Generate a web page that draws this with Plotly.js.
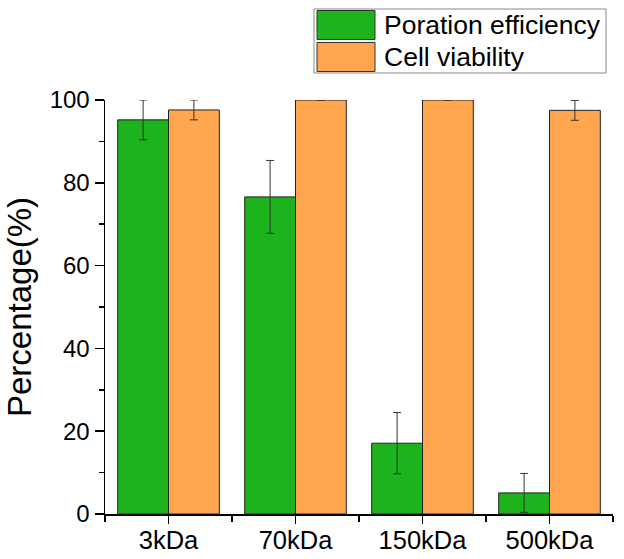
<!DOCTYPE html>
<html>
<head>
<meta charset="utf-8">
<script src="https://cdn.plot.ly/plotly-3.0.1.min.js"></script>
<style>
  html, body { margin: 0; padding: 0; background: #fff; }
  #chart { width: 624px; height: 559px; }
</style>
</head>
<body>
<div id="chart"></div>
<script>
const categories = ['3kDa', '70kDa', '150kDa', '500kDa'];
const porationValues = [95.2, 76.6, 17.1, 5.1];
const porationErrors = [4.8, 8.8, 7.4, 4.7];
const viabilityValues = [97.6, 100, 100, 97.5];
const viabilityErrors = [2.4, null, null, 2.4];
const seriesNames = ['Poration efficiency', 'Cell viability'];
const seriesColors = ['#1cb31c', '#ffa64f'];

const FONT = '"Liberation Sans", Arial, sans-serif';
const W = 624, H = 559;
const margin = { l: 105, r: 11, t: 100, b: 45 };
const plotW = W - margin.l - margin.r;
const plotH = H - margin.t - margin.b;

// pixel -> paper helpers for the hand-drawn legend
const px = x => (x - margin.l) / plotW;
const py = y => (H - margin.b - y) / plotH;

const xs = categories.map((c, i) => i);

const errStyle = { type: 'data', visible: true, color: '#333', thickness: 1, width: 4 };

const traces = [
    {
        type: 'bar',
        x: xs,
        y: porationValues,
        name: seriesNames[0],
        marker: { color: seriesColors[0], line: { color: '#222', width: 1 } },
        error_y: Object.assign({ array: porationErrors }, errStyle),
        cliponaxis: false,
        showlegend: false,
    },
    {
        type: 'bar',
        x: xs,
        y: viabilityValues,
        name: seriesNames[1],
        marker: { color: seriesColors[1], line: { color: '#222', width: 1 } },
        error_y: Object.assign({ array: viabilityErrors }, errStyle),
        cliponaxis: false,
        showlegend: false,
    },
];

// legend box drawn by hand (Plotly bar swatches are too small)
const legendRows = [25, 57];
const shapes = [
    {
        type: 'rect', xref: 'paper', yref: 'paper',
        x0: px(314), x1: px(606), y0: py(73), y1: py(9),
        line: { color: '#888', width: 1 }, fillcolor: 'rgba(0,0,0,0)',
    },
];
const annotations = [];
seriesNames.forEach((name, i) => {
    const cy = legendRows[i];
    shapes.push({
        type: 'rect', xref: 'paper', yref: 'paper',
        x0: px(317), x1: px(375), y0: py(cy + 14.5), y1: py(cy - 14.5),
        line: { color: '#333', width: 1 }, fillcolor: seriesColors[i],
    });
    annotations.push({
        xref: 'paper', yref: 'paper', x: px(382), y: py(cy),
        xanchor: 'left', yanchor: 'middle', showarrow: false,
        text: name, font: { family: FONT, size: 26.5, color: '#000' },
    });
});

Plotly.newPlot('chart', traces, {
    width: W,
    height: H,
    margin: margin,
    barmode: 'group',
    bargap: 0.2,
    bargroupgap: 0,
    paper_bgcolor: '#fff',
    plot_bgcolor: '#fff',
    font: { family: FONT, color: '#000' },
    xaxis: {
        range: [-0.5, 3.5],
        tickvals: xs,
        ticktext: categories,
        tickfont: { size: 25.5 },
        ticklabelstandoff: -5,
        ticks: 'outside',
        ticklen: 8,
        tickwidth: 1.5,
        tickcolor: '#000',
        minor: { tick0: 0.5, dtick: 1, ticks: 'outside', ticklen: 6, tickwidth: 1.5, tickcolor: '#000' },
        showline: true,
        linecolor: '#000',
        linewidth: 1.5,
        showgrid: false,
        zeroline: false,
        fixedrange: true,
    },
    yaxis: {
        title: { text: 'Percentage(%)', font: { size: 33 }, standoff: 8 },
        range: [0, 100],
        dtick: 20,
        tickfont: { size: 24 },
        ticks: 'outside',
        ticklen: 9,
        tickwidth: 1.5,
        tickcolor: '#000',
        minor: { dtick: 10, ticks: 'outside', ticklen: 5, tickwidth: 1.5, tickcolor: '#000' },
        showline: true,
        linecolor: '#000',
        linewidth: 1.5,
        showgrid: false,
        zeroline: false,
        fixedrange: true,
    },
    shapes: shapes,
    annotations: annotations,
}, {
    staticPlot: true,
    displayModeBar: false,
});
</script>
</body>
</html>
